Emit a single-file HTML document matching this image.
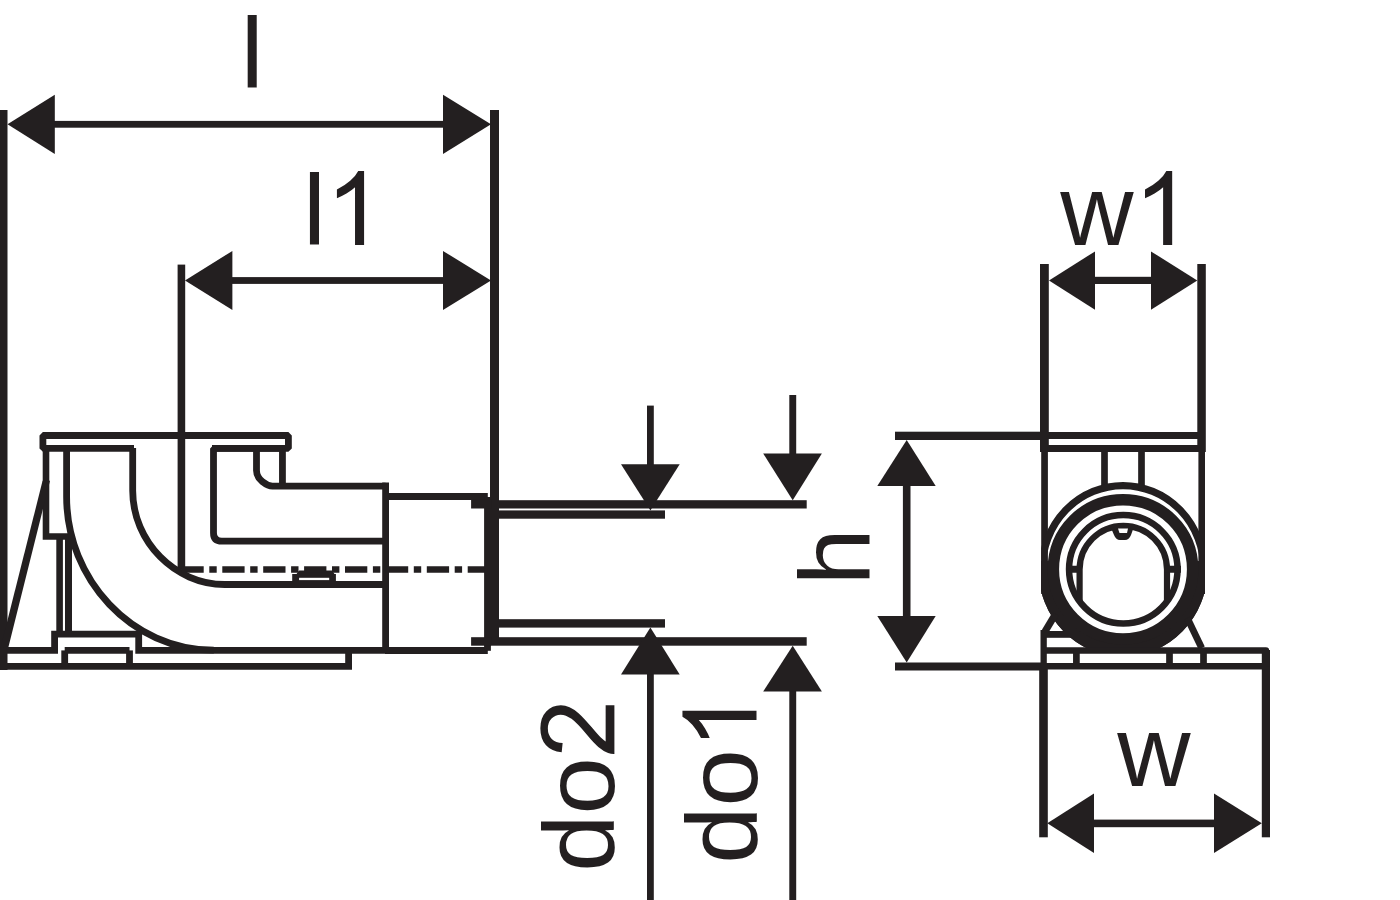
<!DOCTYPE html>
<html>
<head>
<meta charset="utf-8">
<title>Dimensional drawing</title>
<style>
  html, body { margin: 0; padding: 0; background: #ffffff; }
  body { width: 1400px; height: 900px; overflow: hidden; }
  svg { display: block; }
  text { font-family: "Liberation Sans", sans-serif; fill: #231f20; }
</style>
</head>
<body>
<svg width="1400" height="900" viewBox="0 0 1400 900">
  <rect x="0" y="0" width="1400" height="900" fill="#ffffff"/>

  <!-- ===================== DIMENSIONS: LEFT VIEW ===================== -->
  <g id="dims-left" fill="#231f20" stroke="none">
    <!-- extension lines -->
    <rect x="0" y="110" width="7.5" height="560"/>
    <rect x="490" y="110" width="9" height="535"/>
    <rect x="177.6" y="264.6" width="7.6" height="305"/>
    <!-- l -->
    <rect x="30" y="120.9" width="440" height="6.8"/>
    <polygon points="7.5,124.3 54.8,94.7 54.8,153.9"/>
    <polygon points="491,124.3 443,94.7 443,153.9"/>
    <!-- l1 -->
    <rect x="210" y="277.1" width="260" height="6.8"/>
    <polygon points="185,280.5 232.4,250.9 232.4,310.1"/>
    <polygon points="491,280.5 443,250.9 443,310.1"/>
  </g>
  <text transform="translate(240.7,88) scale(1,0.98)" font-size="103">l</text>
  <text transform="translate(303.1,245) scale(1,0.98)" font-size="103">l</text>
  <use href="#one" fill="#231f20" transform="translate(325.7,245) scale(0.0503,-0.0503)"/>

  <!-- ===================== LEFT VIEW: FITTING ===================== -->
  <g id="fitting-left" fill="none" stroke="#231f20" stroke-width="6.8" stroke-linejoin="miter">
    <!-- top plate -->
    <path d="M134,448.4 H42.9 V435.5 H288.4 V448.4 H212" stroke-linejoin="bevel"/>
    <!-- left wall -->
    <path d="M46,448 V536.5 H73" stroke-width="6.6"/>
    <!-- diagonal brace -->
    <polygon points="42.6,480.7 50,480.7 7.7,650 0,650" fill="#231f20" stroke="none"/>
    <!-- double vertical -->
    <path d="M59.6,538 V633" stroke-width="6.6"/>
    <path d="M68.5,538 V633" stroke-width="7"/>
    <!-- outer elbow curve -->
    <path d="M66.6,451 V496.8 C66.6,579 131.5,650.2 213.8,650.2"/>
    <!-- inner elbow curve + horizontal -->
    <path d="M132.7,448 V490.8 C132.7,541.7 175,584.5 224.7,584.5 H385"/>
    <!-- inner L-shaped cavity -->
    <path d="M282.6,448.4 H213.5 V533 Q213.5,541.2 221.8,541.2 H385.6" stroke-linejoin="bevel"/>
    <path d="M282.45,450 V486.2"/>
    <path d="M256.5,450 V470.5 C256.5,476 259,479 262.5,481.7 C265.5,484.2 267.5,486.2 272.5,486.2 H385.6"/>
    <!-- body right vertical -->
    <path d="M385.6,482.5 V652"/>
    <!-- socket top / bottom -->
    <path d="M385,496.5 H487.8"/>
    <path d="M385,650.5 H487.8"/>
    <!-- base plate -->
    <path d="M3.4,650.4 H54.6 V634.2 H138.7 V650.4 H386"/>
    <path d="M3.4,648 V666.4 H348.6 V652"/>
    <path d="M64.7,650.4 V666.4"/>
    <path d="M129.5,650.4 V666.4"/>
    <path d="M64.7,650.4 H129.5"/>
    <!-- small bump on pipe -->

  </g>
  <!-- small bump on pipe -->
  <path d="M292.2,582 V574.1 H296.5 L299,570.5 H332 L334.5,574.1 H335.9 V582 Z" fill="#231f20"/>
  <rect x="299.1" y="577.8" width="30.1" height="2.3" fill="#ffffff"/>
  <!-- centre line -->
  <path d="M181.4,569.5 H487" fill="none" stroke="#231f20" stroke-width="6.6" stroke-dasharray="22.3 5.6 7.4 5.6"/>

  <!-- socket end + pipe lines -->
  <g id="pipe" fill="#231f20" stroke="none">
    <rect x="484.1" y="497" width="13.9" height="148.7"/>
    <rect x="484.1" y="640" width="6.8" height="10.8"/>
    <rect x="471.1" y="499.7" width="20" height="8.8"/>
    <rect x="471.1" y="637.2" width="20" height="8.5"/>
    <!-- do1 -->
    <rect x="498" y="500.2" width="308.7" height="8.3"/>
    <rect x="498" y="637.2" width="308.7" height="8.5"/>
    <!-- do2 -->
    <rect x="498" y="510.4" width="167" height="8.3"/>
    <rect x="498" y="619.2" width="167" height="8.4"/>
    <!-- do2 arrows -->
    <rect x="647" y="405.6" width="6.8" height="70"/>
    <polygon points="621,464.3 679.7,464.3 650.4,510.4"/>
    <rect x="647" y="660" width="6.8" height="240"/>
    <polygon points="621,674.6 679.7,674.6 650.4,627.6"/>
    <!-- do1 arrows -->
    <rect x="789.3" y="395" width="6.9" height="70"/>
    <polygon points="763.2,453.6 821.9,453.6 792.7,500.2"/>
    <rect x="789.3" y="680" width="6.9" height="220"/>
    <polygon points="763.2,691.6 821.9,691.6 792.7,645.7"/>
  </g>
  <text transform="translate(614.4,871.7) rotate(-90) scale(1,0.98)" font-size="103">do</text>
  <use href="#two" fill="#231f20" transform="translate(614.4,757.1) rotate(-90) scale(0.0503,-0.0503)"/>
  <text transform="translate(756.5,863.8) rotate(-90) scale(1,0.98)" font-size="103">do</text>
  <use href="#one" fill="#231f20" transform="translate(756.5,749.2) rotate(-90) scale(0.0503,-0.0503)"/>
  <text transform="translate(870,585.4) rotate(-90) scale(1,0.98)" font-size="103">h</text>

  <!-- ===================== h dimension ===================== -->
  <g id="dim-h" fill="#231f20" stroke="none">
    <rect x="895" y="431.7" width="150" height="8.3"/>
    <rect x="895" y="662.5" width="150" height="8"/>
    <rect x="902.9" y="470" width="7.6" height="160"/>
    <polygon points="906.7,440 877.3,486 935.7,486"/>
    <polygon points="906.7,662.5 877.3,616 935.7,616"/>
  </g>

  <!-- ===================== RIGHT VIEW ===================== -->
  <g id="dims-right" fill="#231f20" stroke="none">
    <!-- w1 -->
    <rect x="1040" y="264" width="8.8" height="188"/>
    <rect x="1197.3" y="264" width="8.5" height="188"/>
    <rect x="1080" y="276.8" width="85" height="7.2"/>
    <polygon points="1049,280.4 1095,251.4 1095,309.8"/>
    <polygon points="1197.3,280.4 1151,251.4 1151,309.8"/>
    <!-- w -->
    <rect x="1039.2" y="668" width="8.6" height="169.3"/>
    <rect x="1261.8" y="650" width="8.2" height="187.3"/>
    <rect x="1080" y="819.6" width="150" height="7.6"/>
    <polygon points="1047.3,823.3 1094,793.6 1094,853"/>
    <polygon points="1261.8,823.3 1214,793.6 1214,853"/>
  </g>
  <text transform="translate(1060.2,245) scale(0.985,0.98)" font-size="103">w</text>
  <use href="#one" fill="#231f20" transform="translate(1133.8,245) scale(0.0503,-0.0503)"/>
  <text transform="translate(1117.2,786) scale(0.985,0.98)" font-size="103">w</text>

  <defs>
    <path id="two" d="M1031,174 V0 H62 Q60,65 83,125 Q120,224 201.5,320 Q283,416 437,542 Q676,738 760,852.5 Q844,967 844,1069 Q844,1176 767.5,1249.5 Q691,1323 568,1323 Q438,1323 360,1245 Q282,1167 281,1029 L96,1048 Q115,1255 239,1363.5 Q363,1472 572,1472 Q783,1472 906,1355 Q1029,1238 1029,1065 Q1029,977 993,892 Q957,807 873.5,713 Q790,619 596,455 Q434,319 388,270.5 Q342,222 312,174 Z"/>
    <path id="one" d="M763,0 H583 V1147 Q518,1085 412.5,1023 Q307,961 223,930 V1104 Q374,1175 487,1276 Q600,1377 647,1472 H763 Z"/>
    <clipPath id="clipR"><rect x="1041.2" y="400" width="163.8" height="251"/></clipPath>
    <clipPath id="clipE"><ellipse cx="1123" cy="569.3" rx="84.5" ry="87.4"/></clipPath>
  </defs>
  <g id="fitting-right" fill="none" stroke="#231f20" stroke-width="6.7">
    <!-- top plate -->
    <path d="M1044,435.6 H1202" stroke-width="7"/>
    <path d="M1044,448.5 H1202" stroke-width="6.8"/>
    <!-- side walls below plate -->
    <path d="M1044.55,446 V594"/>
    <path d="M1201.7,446 V594" stroke-width="6.6"/>
    <!-- neck -->
    <path d="M1104.5,451 V487"/>
    <path d="M1141.5,451 V487"/>
    <!-- outer thin ring (upper) + thick lower ring -->
    <g clip-path="url(#clipR)">
      <ellipse cx="1123" cy="569.3" rx="80.85" ry="83.75" stroke-width="7.3"/>
      <path d="M1030,561 H1216 V660 H1030 Z" fill="#231f20" stroke="none" clip-path="url(#clipE)"/>
    </g>
    <circle cx="1123" cy="569.3" r="69.65" stroke-width="11.5" fill="#ffffff"/>
    <circle cx="1123.3" cy="569.3" r="54.25" stroke-width="6.5"/>
    <path d="M1079.6,601.5 V569.5 A43.7,43.7 0 0 1 1167,569.5 V601.5" stroke-width="6.2"/>
    <path d="M1066,569.3 H1082 M1164,569.3 H1181" stroke-width="7"/>
    <!-- braces -->
    <path d="M1055.5,614 L1045,631.5" stroke-width="7.2"/>
    <path d="M1043.65,630 V668" stroke-width="6.3"/>
    <path d="M1043,634.4 H1072" stroke-width="6.8"/>
    <path d="M1187.3,618 L1201.7,648" stroke-width="6.8"/>
    <!-- base plate -->
    <path d="M1043,650.4 H1265.9 V666.4" stroke-linejoin="round" stroke-width="6.5"/>
    <path d="M1043,666.3 H1266" stroke-width="6.6"/>
    <path d="M1076.4,650 V666 M1169.5,650 V666 M1203.5,650 V666" stroke-width="6.7"/>
  </g>
  <!-- notch -->
  <path d="M1111,528 L1133.5,528 L1131,535 Q1129,540 1125,540 L1120,540 Q1116,540 1114,535 Z" fill="#231f20"/>
  <path d="M1118,528.5 L1128,528.5 L1127,533 L1119.5,533 Z" fill="#ffffff"/>
</svg>
</body>
</html>
